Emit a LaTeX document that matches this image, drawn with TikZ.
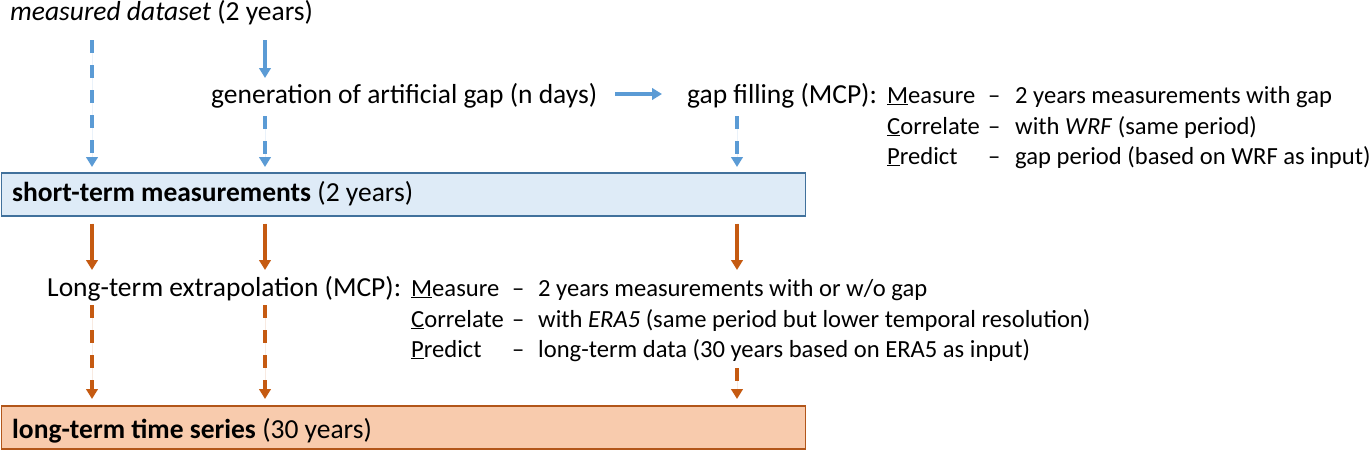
\documentclass[tikz,border=0pt]{standalone}
\usepackage{fontspec}
\setmainfont{Carlito}
\usetikzlibrary{arrows.meta}
\definecolor{ablue}{HTML}{5B9BD5}
\definecolor{aorange}{HTML}{C55A11}
\definecolor{bfill}{HTML}{DEEBF7}
\definecolor{bline}{HTML}{41719C}
\definecolor{ofill}{HTML}{F8CBAD}
\definecolor{oline}{HTML}{B2561A}
\begin{document}
\begin{tikzpicture}[x=1pt,y=-1pt,
  font=\fontsize{27.5}{33}\selectfont,
  txt/.style={inner sep=0pt, anchor=base west},
  small/.style={txt, font=\fontsize{24.6}{30}\selectfont},
  tip/.style={-{Triangle[width=11.5pt,length=10pt]}},
  bsolid/.style={draw=ablue, fill=ablue, line width=3.3pt, tip},
  bdash/.style={bsolid, dash pattern=on 13pt off 12pt},
  osolid/.style={draw=aorange, fill=aorange, line width=3.3pt, tip},
  odash/.style={osolid, dash pattern=on 13pt off 12pt},
  bluebox/.style={draw=bline, fill=bfill, line width=1.5pt, minimum width=804pt, minimum height=43pt, inner sep=0pt, anchor=north west},
  orangebox/.style={draw=oline, fill=ofill, line width=1.5pt, minimum width=804pt, minimum height=43pt, inner sep=0pt, anchor=north west}]
\useasboundingbox (0,0) rectangle (1371,451);

% columns and rows
\coordinate (c1) at (92,0);
\coordinate (c2) at (265,0);
\coordinate (c3) at (737,0);
\coordinate (rA) at (0,40);
\coordinate (rB) at (0,78);
\coordinate (rC) at (0,116);
\coordinate (rD) at (0,270);
\coordinate (rE) at (0,305);
\coordinate (rF) at (0,368);
\coordinate (rH) at (0,94);

% boxes
\node[bluebox] (stm) at (0.75,172) {};
\node[txt] (stmt) at (12,201) {\textbf{short-term measurements} (2 years)};
\node[orangebox] (lts) at (0.75,405) {};
\node[txt] (ltst) at (12,438) {\textbf{long-term time series} (30 years)};

% top texts
\node[txt] (md) at (10,20) {{\itshape measured dataset} (2 years)};
\node[txt] (gen) at (211,103) {generation of artificial gap (n days)};

% gap filling block
\node[txt] (gf) at (687,103) {gap filling (MCP):};
\node[small] (gm) at (887,103) {\underline{M}easure};
\node[small] (gmd) at (988,103) {–};
\node[small] (gmt) at (1015,103) {2 years measurements with gap};
\node[small] (gc) at (887,134) {\underline{C}orrelate};
\node[small] (gcd) at (988,134) {–};
\node[small] (gct) at (1015,134) {with \textit{WRF} (same period)};
\node[small] (gp) at (887,164) {\underline{P}redict};
\node[small] (gpd) at (988,164) {–};
\node[small] (gpt) at (1015,164) {gap period (based on WRF as input)};

% long-term block
\node[txt] (le) at (47,296) {Long-term extrapolation (MCP):};
\node[small] (lm) at (411,296) {\underline{M}easure};
\node[small] (lmd) at (512,296) {–};
\node[small] (lmt) at (538,296) {2 years measurements with or w/o gap};
\node[small] (lc) at (411,327) {\underline{C}orrelate};
\node[small] (lcd) at (512,327) {–};
\node[small] (lct) at (538,327) {with \textit{ERA5} (same period but lower temporal resolution)};
\node[small] (lp) at (411,357) {\underline{P}redict};
\node[small] (lpd) at (512,357) {–};
\node[small] (lpt) at (538,357) {long-term data (30 years based on ERA5 as input)};

% blue arrows
\draw[bdash, shorten >=5pt] (c1 |- rA) -- (c1 |- stm.north);
\draw[bsolid] (c2 |- rA) -- (c2 |- rB);
\draw[bsolid, shorten <=18pt, shorten >=25pt] (gen.east |- rH) -- (gf.west |- rH);
\draw[bdash, shorten >=5pt] (c2 |- rC) -- (c2 |- stm.north);
\draw[bdash, shorten >=5pt] (c3 |- rC) -- (c3 |- stm.north);

% orange arrows
\draw[osolid, shorten <=7pt] (c1 |- stm.south) -- (c1 |- rD);
\draw[osolid, shorten <=7pt] (c2 |- stm.south) -- (c2 |- rD);
\draw[osolid, shorten <=7pt] (c3 |- stm.south) -- (c3 |- rD);
\draw[odash, shorten >=6pt] (c1 |- rE) -- (c1 |- lts.north);
\draw[odash, shorten >=6pt] (c2 |- rE) -- (c2 |- lts.north);
\draw[odash, shorten >=6pt] (c3 |- rF) -- (c3 |- lts.north);
\end{tikzpicture}
\end{document}
